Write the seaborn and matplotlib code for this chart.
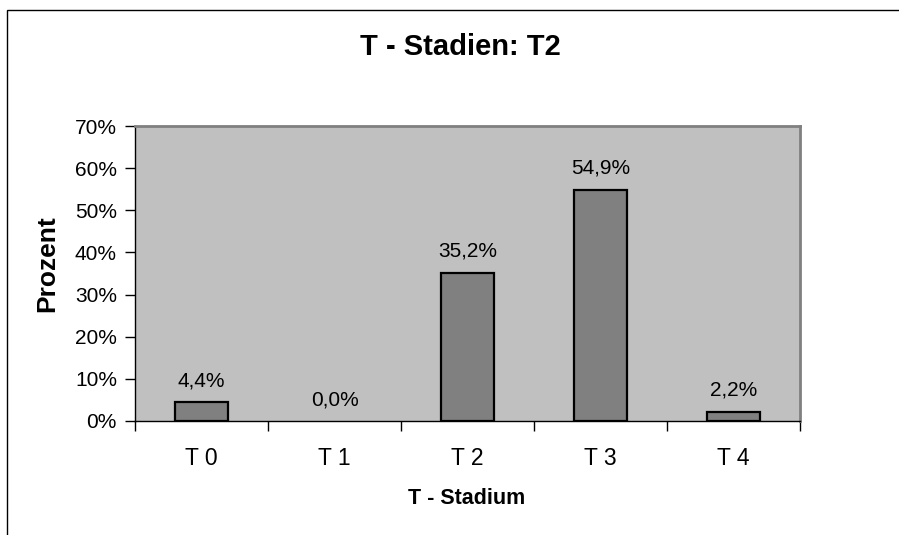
import matplotlib
matplotlib.use("Agg")
import matplotlib.pyplot as plt
from matplotlib.patches import Rectangle
from matplotlib.ticker import FuncFormatter, FixedLocator
import seaborn as sns
import pandas as pd

# T-stage distribution (share of patients)
stages = ["T 0", "T 1", "T 2", "T 3", "T 4"]
shares = [0.044, 0.000, 0.352, 0.549, 0.022]
share_labels = ["4,4%", "0,0%", "35,2%", "54,9%", "2,2%"]
y_ticks = [0.0, 0.1, 0.2, 0.3, 0.4, 0.5, 0.6, 0.7]

sns.set_theme(style="white")
plt.rcParams["font.family"] = ["Liberation Sans", "DejaVu Sans"]
plt.rcParams.update({"text.color": "black", "axes.labelcolor": "black",
                     "xtick.color": "black", "ytick.color": "black"})

df = pd.DataFrame({"Stadium": stages, "Anteil": shares})

fig = plt.figure(figsize=(8.99, 5.35), dpi=100)
fig.patch.set_facecolor("white")

# chart frame (runs off the right and bottom edges)
fig.patches.append(Rectangle((7 / 899, -0.05), 1.1, 1 - 10 / 535 + 0.05,
                             transform=fig.transFigure, fill=False,
                             edgecolor="black", linewidth=1.0))

ax = fig.add_axes([135 / 899, 1 - 421 / 535, 665 / 899, 295 / 535])
ax.set_facecolor("#C0C0C0")

sns.barplot(data=df, x="Stadium", y="Anteil", ax=ax, color="#808080",
            width=0.4, edgecolor="black", linewidth=1.6, saturation=1)

# empty categories get no outline
for patch in ax.patches:
    if patch.get_height() == 0:
        patch.set_linewidth(0)

ax.set_xlim(-0.5, len(stages) - 0.5)
ax.set_ylim(0, 0.7)
ax.set_yticks(y_ticks)
ax.yaxis.set_major_formatter(FuncFormatter(lambda v, _: f"{v * 100:.0f}%"))

ax.xaxis.set_minor_locator(FixedLocator([i - 0.5 for i in range(len(stages) + 1)]))
ax.tick_params(axis="x", which="major", length=0, pad=19, labelsize=16.5,
               labelcolor="black")
ax.tick_params(axis="x", which="minor", length=7, width=1, color="black",
               direction="out", bottom=True)
ax.tick_params(axis="y", which="major", length=7, width=1, color="black",
               direction="out", left=True, pad=6, labelsize=15,
               labelcolor="black")

for side in ("top", "right"):
    ax.spines[side].set_color("#808080")
    ax.spines[side].set_linewidth(2)
for side in ("left", "bottom"):
    ax.spines[side].set_color("black")
    ax.spines[side].set_linewidth(1)

for i, (v, txt) in enumerate(zip(shares, share_labels)):
    ax.annotate(txt, (i, v), xytext=(0, 11.5), textcoords="offset points",
                ha="center", va="baseline", fontsize=15, color="black")

ax.set_xlabel("")
ax.set_ylabel("")
fig.text(467 / 899, 1 - 499 / 535, "T - Stadium", ha="center", va="center",
         fontsize=15.5, fontweight="bold", color="black")
fig.text(47 / 899, 1 - 264 / 535, "Prozent", ha="center", va="center",
         rotation=90, fontsize=19, fontweight="bold", color="black")
fig.text(460 / 899, 1 - 47 / 535, "T - Stadien: T2", ha="center", va="center",
         fontsize=21, fontweight="bold", color="black")

fig.savefig("out.png", dpi=100)
